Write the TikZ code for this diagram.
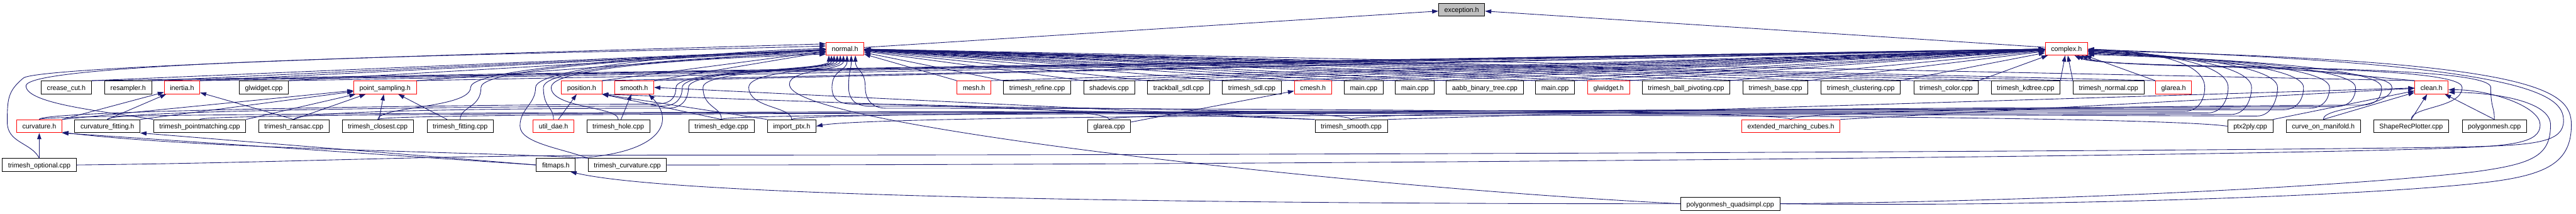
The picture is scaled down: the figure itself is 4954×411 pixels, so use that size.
\documentclass[tikz,border=0pt]{standalone}
\usepackage{fontspec}
\setmainfont{Liberation Sans}
\usetikzlibrary{arrows.meta}
\definecolor{edgeblue}{HTML}{191970}
\definecolor{rootgray}{HTML}{BFBFBF}
\newcommand{\filefont}{\fontsize{7.4pt}{8.9pt}\selectfont}
\tikzset{
  file/.style={draw=black, fill=white, line width=0.6pt, font=\filefont,
    inner xsep=6.3pt, inner ysep=0pt, minimum height=0.5cm,
    text height=1.6ex, text depth=0.45ex},
  trunc/.style={file, draw=red},
  root/.style={file, fill=rootgray},
  dep/.style={draw=edgeblue, line width=0.6pt, -{Triangle[length=0.24cm,width=0.16cm]}}
}

\begin{document}
\begin{tikzpicture}[x=0.02cm, y=0.02cm]
\path[use as bounding box, fill=white] (0,0) rectangle (4954,-411);
% row 0 and 1
\node[root] (exception) at (2811,-18.5) {exception.h};
\node[trunc] (normal) at (1625,-93.5) {normal.h};
\node[trunc] (complex) at (3974,-93.5) {complex.h};
% row 2
\node[file] (creasecut) at (127.5,-168) {crease\_cut.h};
\node[file] (resampler) at (246.5,-168) {resampler.h};
\node[trunc] (inertia) at (350,-168) {inertia.h};
\node[file] (glwidgetcpp) at (507.5,-168) {glwidget.cpp};
\node[trunc] (pointsampling) at (740.5,-168) {point\_sampling.h};
\node[trunc] (position) at (1118.5,-168) {position.h};
\node[trunc] (smooth) at (1219.5,-168) {smooth.h};
\node[trunc] (mesh) at (1873,-168) {mesh.h};
\node[file] (refine) at (1994.5,-168) {trimesh\_refine.cpp};
\node[file] (shadevis) at (2133,-168) {shadevis.cpp};
\node[file] (trackball) at (2266.5,-168) {trackball\_sdl.cpp};
\node[file] (sdl) at (2407.5,-168) {trimesh\_sdl.cpp};
\node[trunc] (cmesh) at (2525,-168) {cmesh.h};
\node[file] (maina) at (2622.5,-168) {main.cpp};
\node[file] (mainb) at (2721,-168) {main.cpp};
\node[file] (aabb) at (2855.5,-168) {aabb\_binary\_tree.cpp};
\node[file] (mainc) at (2990.5,-168) {main.cpp};
\node[trunc] (glwidgeth) at (3093.5,-168) {glwidget.h};
\node[file] (ballpiv) at (3242.5,-168) {trimesh\_ball\_pivoting.cpp};
\node[file] (base) at (3414.5,-168) {trimesh\_base.cpp};
\node[file] (clustering) at (3578.5,-168) {trimesh\_clustering.cpp};
\node[file] (color) at (3742.5,-168) {trimesh\_color.cpp};
\node[file] (kdtree) at (3895.5,-168) {trimesh\_kdtree.cpp};
\node[file] (normalcpp) at (4055,-168) {trimesh\_normal.cpp};
\node[trunc] (glareah) at (4180,-168) {glarea.h};
\node[trunc] (clean) at (4676,-168) {clean.h};
% row 3
\node[trunc] (curvature) at (75.5,-242.5) {curvature.h};
\node[file] (curvfit) at (206.5,-242.5) {curvature\_fitting.h};
\node[file] (pointmatch) at (384,-242.5) {trimesh\_pointmatching.cpp};
\node[file] (ransac) at (565,-242.5) {trimesh\_ransac.cpp};
\node[file] (closest) at (726.5,-242.5) {trimesh\_closest.cpp};
\node[file] (fitting) at (885,-242.5) {trimesh\_fitting.cpp};
\node[trunc] (utildae) at (1064.5,-242.5) {util\_dae.h};
\node[file] (hole) at (1189,-242.5) {trimesh\_hole.cpp};
\node[file] (edge) at (1387.5,-242.5) {trimesh\_edge.cpp};
\node[file] (importptx) at (1522.5,-242.5) {import\_ptx.h};
\node[file] (glareacpp) at (2133,-242.5) {glarea.cpp};
\node[file] (smoothcpp) at (2598.5,-242.5) {trimesh\_smooth.cpp};
\node[trunc] (emc) at (3444,-242.5) {extended\_marching\_cubes.h};
\node[file] (ptx2ply) at (4327.5,-242.5) {ptx2ply.cpp};
\node[file] (com) at (4468,-242.5) {curve\_on\_manifold.h};
\node[file] (shaperec) at (4637,-242.5) {ShapeRecPlotter.cpp};
\node[file] (polygonmesh) at (4797,-242.5) {polygonmesh.cpp};
% row 4 and 5
\node[file] (optional) at (75.5,-317) {trimesh\_optional.cpp};
\node[file] (fitmaps) at (1069,-317) {fitmaps.h};
\node[file] (curvaturecpp) at (1206.5,-317) {trimesh\_curvature.cpp};
\node[file] (quadsimpl) at (3327.5,-391.5) {polygonmesh\_quadsimpl.cpp};

% top
\draw[dep] (normal) -- (exception);
\draw[dep] (complex) -- (exception);
% row 2 up to normal.h and complex.h
\foreach \s in {creasecut,resampler,inertia,glwidgetcpp,pointsampling,position,smooth}
  \draw[dep] (\s.north east) -- (normal);
\foreach \s in {mesh,refine,shadevis,trackball,sdl,cmesh,maina,mainb,aabb,mainc,glwidgeth,ballpiv,base,clustering,color,kdtree,normalcpp,glareah,clean}
  \draw[dep] (\s.north west) -- (normal);
\foreach \s in {creasecut,resampler,inertia,glwidgetcpp,pointsampling,position,smooth,mesh,refine,shadevis,trackball,sdl,cmesh,maina,mainb,aabb,mainc,glwidgeth,ballpiv,base,clustering,color,kdtree}
  \draw[dep] (\s.north east) -- (complex);
\foreach \s in {normalcpp,glareah,clean}
  \draw[dep] (\s.north west) -- (complex);

% row 3 up to normal.h, through the gaps of row 2
\foreach \s/\gx/\a in {closest/905/-176, fitting/925/-172, utildae/1045/-168, hole/1060/-164}
  \draw[dep] (\s.north) .. controls +(0,25) and +(0,-40) .. (\gx,-168)
    .. controls +(0,45) and +(-150,-5) .. (normal.\a);
\foreach \s/\gx/\dx in {edge/1352/-0.30cm, importptx/1440/-0.18cm}
  \draw[dep] (\s.north) .. controls +(0,25) and +(0,-40) .. (\gx,-168)
    .. controls +(0,35) and +(0,-30) .. ([xshift=\dx]normal.south);
\foreach \s/\gx/\cy/\dx in {curvature/1300/-200/-0.62cm, curvfit/1312/-204/-0.52cm, ransac/1324/-208/-0.42cm}
  \draw[dep] (\s.north) .. controls +(0,20) and +(-150,0) .. (\gx-40,\cy)
    .. controls +(30,0) and +(0,-20) .. (\gx,-168)
    .. controls +(0,35) and +(0,-30) .. ([xshift=\dx]normal.south);
\foreach \s/\gx/\cy/\dx in {glareacpp/1600/-200/0.08cm, smoothcpp/1632/-204/0.24cm, emc/1664/-208/0.40cm}
  \draw[dep] (\s.north) .. controls +(0,20) and +(150,0) .. (\gx+40,\cy)
    .. controls +(-30,0) and +(0,-20) .. (\gx,-168)
    .. controls +(0,35) and +(0,-30) .. ([xshift=\dx]normal.south);

% row 3 up to complex.h, round the right of glarea.h
\foreach \s/\gx/\cy/\a in {curvature/4240/-214/-1, pointmatch/4285/-217/-3, closest/4330/-220/-5, edge/4380/-223/-7, importptx/4430/-211/-9, glareacpp/4480/-208/-11, smoothcpp/4530/-205/-13, emc/4580/-202/-15}
  \draw[dep] (\s.north) .. controls +(0,20) and +(-150,0) .. (\gx-40,\cy)
    .. controls +(30,0) and +(0,-20) .. (\gx,-168)
    .. controls +(0,45) and +(140,-5) .. (complex.\a);
\foreach \s/\gx/\a in {com/4600/-24, shaperec/4735/-32, polygonmesh/4790/-40}
  \draw[dep] (\s.north) .. controls +(0,25) and +(0,-40) .. (\gx,-168)
    .. controls +(0,50) and +(60,-30) .. (complex.\a);

% clean.h
\foreach \s in {com,shaperec,polygonmesh}
  \draw[dep] (\s.north) -- (clean);
\foreach \s in {smoothcpp,emc,ptx2ply}
  \draw[dep] (\s.north east) -- (clean);

% row 3 to row 2
\draw[dep] (curvature.north east) -- (inertia);
\draw[dep] (curvfit.north) -- (inertia);
\draw[dep] (ransac.north) -- (inertia);
\draw[dep] (curvature.north east) -- (pointsampling);
\draw[dep] (curvfit.north east) -- (pointsampling);
\draw[dep] (pointmatch.north east) -- (pointsampling);
\draw[dep] (ransac.north) -- (pointsampling);
\draw[dep] (closest) -- (pointsampling);
\draw[dep] (fitting) -- (pointsampling);
\draw[dep] (utildae) -- (position);
\draw[dep] (edge.north) -- (position.south east);
\draw[dep] (importptx.north west) -- (position.south east);
\draw[dep] (smoothcpp.north west) -- (position.south east);
\draw[dep] (hole) -- (smooth);
\draw[dep] (smoothcpp.north west) -- (smooth.east);
\draw[dep] (glareacpp) -- (cmesh);
\draw[dep] (ptx2ply.west) .. controls (4100,-215) and (1720,-215) .. (importptx.east);

% round the left end
\draw[dep] (pointmatch.north west) .. controls +(-90,15) and +(0,-35) .. (50,-165)
  .. controls +(0,50) and +(-500,-15) .. (normal.172);
\draw[dep] (optional.north) .. controls +(-15,30) and +(0,-40) .. (14,-235)
  .. controls +(0,45) and +(-30,-25) .. (45,-150)
  .. controls +(30,25) and +(-500,-15) .. (normal.166);

% rows 4 and 5
\draw[dep] (optional) -- (curvature);
\draw[dep] (fitmaps.west) -- (curvature.south east);
\draw[dep] (fitmaps.west) -- (curvfit.south east);
\draw[dep] (fitmaps.north east) .. controls (1270,-295) and (1300,-235) .. (smooth.-25);
\draw[dep] (curvaturecpp.north west) .. controls (950,-292) and (400,-288) .. (curvature.-15);
\draw[dep] (curvaturecpp.north west) .. controls (1080,-285) and (1000,-275) .. (1000,-242)
  .. controls (1000,-209) and (1030,-200) .. (1030,-168)
  .. controls (1030,-125) and (1440,-96) .. (normal.west);
\draw[dep] (quadsimpl.west) .. controls (2300,-392) and (1300,-378) .. (fitmaps.-25);
\draw[dep] (quadsimpl.west) .. controls (2600,-360) and (1560,-245) .. (1520,-168)
  .. controls (1502,-133) and +(0,-30) .. ([xshift=-0.06cm]normal.south);

% round the right end
\draw[dep] (curvaturecpp.east) .. controls (2500,-317) and (4300,-300) .. (4700,-285)
  .. controls (4830,-281) and (4885,-275) .. (4885,-240)
  .. controls (4885,-205) and (4790,-172) .. (clean.-8);
\draw[dep] (quadsimpl.east) .. controls (3900,-388) and (4500,-360) .. (4760,-330)
  .. controls (4870,-315) and (4905,-300) .. (4905,-240)
  .. controls (4905,-195) and (4800,-178) .. (clean.-16);
\draw[dep] (optional.east) .. controls (600,-312) and (800,-298) .. (1300,-298)
  .. controls (2500,-298) and (4400,-290) .. (4750,-282)
  .. controls (4880,-279) and (4930,-272) .. (4930,-232)
  .. controls (4930,-180) and (4860,-122) .. (complex.-2);
\draw[dep] (quadsimpl.east) .. controls (3950,-398) and (4600,-375) .. (4800,-348)
  .. controls (4900,-334) and (4945,-310) .. (4945,-240)
  .. controls (4945,-172) and (4880,-116) .. (complex.-5);
\end{tikzpicture}
\end{document}
